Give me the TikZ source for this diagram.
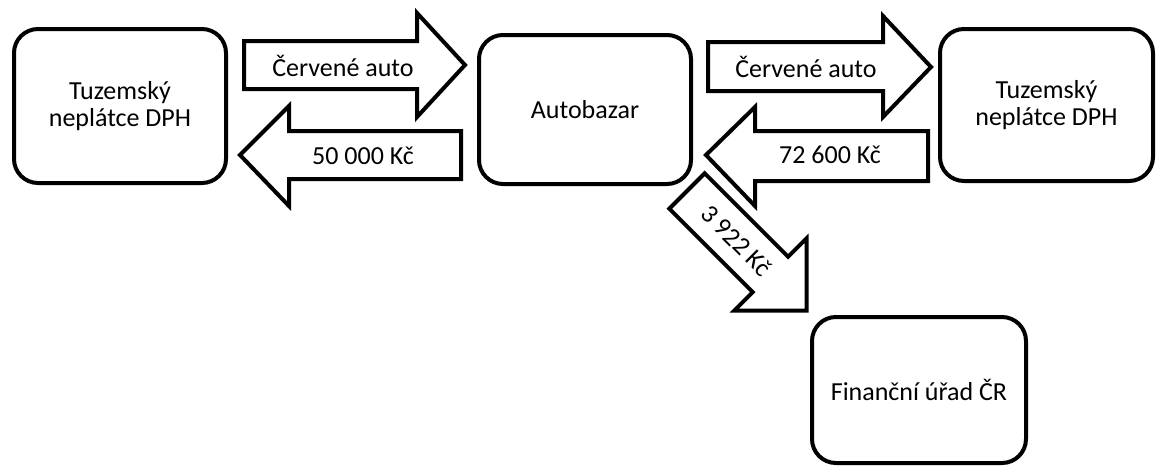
\documentclass[tikz,border=0pt]{standalone}
\usepackage{fontspec}
\setmainfont{Carlito}

\tikzset{
  box/.style={draw, line width=2pt, rounded corners=12pt, align=center,
    inner sep=0pt, font=\fontsize{13}{13.5}\selectfont},
  blockarrow/.style={draw, line width=2pt, fill=white, line join=miter},
  arrowtext/.style={inner sep=0pt, font=\fontsize{13}{13.5}\selectfont}
}

\begin{document}
\begin{tikzpicture}[x=0.5pt, y=-0.5pt]
\useasboundingbox (0,0) rectangle (1157,466);

% boxes
\node[box, minimum width=106pt, minimum height=77pt] (seller) at (120,106) {Tuzemský\\neplátce DPH};
\node[box, minimum width=106pt, minimum height=74.5pt] (bazar) at (585,109.5) {Autobazar};
\node[box, minimum width=106.5pt, minimum height=76pt] (buyer) at (1046.5,105) {Tuzemský\\neplátce DPH};
\node[box, minimum width=107pt, minimum height=73pt] (office) at (919,390) {Finanční úřad ČR};

% seller -> bazar
\draw[blockarrow] (244,41) -- (417,41) -- (417,13) -- (465,65) -- (417,117) -- (417,89) -- (244,89) -- cycle;
\node[arrowtext] (car1) at (343,66) {Červené auto};

% bazar -> seller
\draw[blockarrow] (461,131) -- (289,131) -- (289,106) -- (240,155) -- (289,206) -- (289,179) -- (461,179) -- cycle;
\node[arrowtext] (pay1) at (363,156) {50 000 Kč};

% bazar -> buyer
\draw[blockarrow] (708,42) -- (883,42) -- (883,16) -- (931,67) -- (883,117) -- (883,91) -- (708,91) -- cycle;
\node[arrowtext] (car2) at (806,67) {Červené auto};

% buyer -> bazar
\draw[blockarrow] (928,131) -- (755,131) -- (755,107) -- (706,155) -- (755,206) -- (755,181) -- (928,181) -- cycle;
\node[arrowtext] (pay2) at (830,155) {72 600 Kč};

% bazar -> office (VAT)
\begin{scope}[shift={(687,191)}, rotate=-45]
\draw[blockarrow] (0,-25) -- (118,-25) -- (118,-51) -- (169,0) -- (118,51) -- (118,25) -- (0,25) -- cycle;
\node[arrowtext, rotate=-45] (vat) at (70,0) {3 922 Kč};
\end{scope}
\end{tikzpicture}
\end{document}
